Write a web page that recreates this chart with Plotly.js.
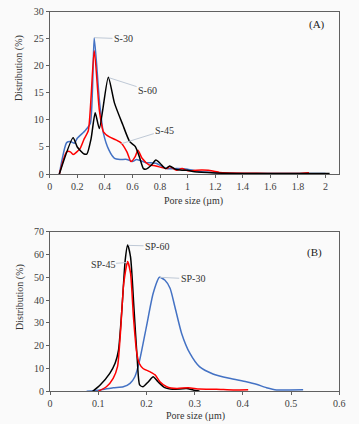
<!DOCTYPE html>
<html><head><meta charset="utf-8">
<script src="https://cdn.plot.ly/plotly-3.0.1.min.js"></script>
<style>html,body{margin:0;padding:0;background:#fafafa}#c{width:359px;height:424px}</style>
</head><body><div id="c"></div>
<script>
// Panel A
const s30x = [0.07,0.123,0.15,0.18,0.2,0.26,0.295,0.323,0.36,0.39,0.43,0.47,0.51,0.56,0.6,0.63,0.7,0.77,0.85,0.92,1.0,1.1,1.2,1.4,1.8,2.0];
const s30y = [0,5.8,6.0,5.7,6.6,8.1,9.4,25.2,13.7,7.5,4.4,2.9,2.7,2.7,2.3,2.7,2.1,2.0,1.0,1.0,0.9,0.4,0.25,0.1,0.1,0.1];
const s45x = [0.07,0.123,0.15,0.17,0.22,0.25,0.28,0.323,0.36,0.39,0.43,0.48,0.52,0.56,0.59,0.62,0.64,0.67,0.72,0.77,0.85,0.87,0.92,0.96,1.0,1.1,1.15,1.23,1.5,1.8,1.88];
const s45y = [0,4.1,4.1,3.6,4.7,6.5,8.0,22.8,11.8,7.8,6.9,6.3,5.7,4.1,2.3,3.2,4.4,2.9,1.7,1.5,1.0,1.4,0.7,1.0,0.6,0.75,0.7,0.3,0.15,0.1,0.25];
const s60x = [0.07,0.17,0.2,0.25,0.27,0.3,0.33,0.36,0.425,0.47,0.53,0.58,0.62,0.65,0.68,0.7,0.74,0.77,0.8,0.84,0.87,0.91,0.96,1.0,1.05,1.2,1.5,1.8,2.03];
const s60y = [0,6.7,5.0,3.7,3.7,6.5,11.3,8.4,17.9,13.1,9.1,6.0,5.1,3.2,1.0,0.9,1.7,2.6,2.0,1.0,1.5,0.9,0.7,0.7,0.4,0.2,0.1,0.1,0.1];
// Panel B
const sp30x = [0.076,0.104,0.131,0.152,0.166,0.176,0.186,0.2,0.214,0.227,0.238,0.249,0.259,0.273,0.29,0.31,0.338,0.372,0.407,0.428,0.449,0.47,0.497,0.525];
const sp30y = [0,0.6,1.6,2,3.5,6.4,13.7,28.4,43,50,48.8,45.2,37.1,25.4,16.7,10.8,7.6,5.7,4.2,3.1,1.6,0.6,0.6,0.7];
const sp45x = [0.1,0.117,0.131,0.14,0.146,0.153,0.161,0.167,0.173,0.18,0.185,0.193,0.207,0.218,0.228,0.242,0.263,0.287,0.31,0.345,0.38,0.411];
const sp45y = [0,2,5.7,10.8,25.4,47.4,56.9,51.8,32.7,16.7,12.3,10,8.6,7.2,4.2,2,1.2,1.6,1,0.9,0.6,0.7];
const sp60x = [0.0885,0.104,0.124,0.135,0.142,0.149,0.156,0.161,0.167,0.174,0.181,0.186,0.193,0.204,0.214,0.224,0.238,0.255,0.283,0.297,0.31];
const sp60y = [0,2.8,7.9,12.3,18,35.7,57.6,64.2,59,37,13.7,2.8,2,4.2,6.4,4.2,1.6,0.9,1.2,0.6,0.15];

const BLUE='#4472c4', RED='#ff0000', BLACK='#000000';
const F='Liberation Serif';
function tr(x,y,c,xa,ya){return {x:x,y:y,xaxis:xa,yaxis:ya,type:'scatter',mode:'lines',line:{color:c,width:1.5,shape:'spline',smoothing:0.6},hoverinfo:'skip',showlegend:false};}
const data=[
 tr(s30x,s30y,BLUE,'x','y'), tr(s45x,s45y,RED,'x','y'), tr(s60x,s60y,BLACK,'x','y'),
 tr(sp30x,sp30y,BLUE,'x2','y2'), tr(sp60x,sp60y,BLACK,'x2','y2'), tr(sp45x,sp45y,RED,'x2','y2')
];
const ax={showline:true,mirror:true,linecolor:'#606060',linewidth:1,showgrid:false,zeroline:false,ticks:'outside',ticklen:3,tickcolor:'#606060',tickfont:{family:F,size:10,color:'#404040'}};
const LC='#bfc9d6';
function lab(t,x,y,tx,ty,xr,yr){return {text:t,x:x,y:y,ax:tx,ay:ty,xref:xr,yref:yr,axref:xr,ayref:yr,showarrow:true,arrowhead:0,arrowwidth:1,arrowcolor:LC,standoff:0,font:{family:F,size:10,color:'#333'}};}
function ttl(t,x,y,rot){return {text:t,x:x,y:y,xref:'paper',yref:'paper',xanchor:'center',yanchor:'middle',showarrow:false,textangle:rot||0,font:{family:F,size:10,color:'#333'}};}
const layout={
 width:359,height:424,margin:{l:0,r:0,t:0,b:0},paper_bgcolor:'#fafafa',plot_bgcolor:'#fafafa',
 xaxis:Object.assign({},ax,{domain:[0.1384,0.9451],range:[0,2.1],tickvals:[0,0.2,0.4,0.6,0.8,1,1.2,1.4,1.6,1.8,2],anchor:'y'}),
 yaxis:Object.assign({},ax,{domain:[0.5896,0.9724],range:[0,30],dtick:5,anchor:'x'}),
 xaxis2:Object.assign({},ax,{domain:[0.1393,0.9451],range:[0,0.6],dtick:0.1,anchor:'y2'}),
 yaxis2:Object.assign({},ax,{domain:[0.0771,0.4535],range:[0,70],dtick:10,anchor:'x2'}),
 annotations:[
  lab('S-30',0.323,25.2,0.535,25,'x','y'),
  lab('S-60',0.43,17.8,0.71,15.5,'x','y'),
  lab('S-45',0.52,5.6,0.835,8.1,'x','y'),
  {text:'(A)',x:1.94,y:27.7,xref:'x',yref:'y',showarrow:false,font:{family:F,size:11,color:'#222'}},
  lab('SP-60',0.163,64,0.222,63.7,'x2','y2'),
  lab('SP-45',0.16,56.5,0.109,55.7,'x2','y2'),
  lab('SP-30',0.228,50,0.296,49.3,'x2','y2'),
  {text:'(B)',x:0.548,y:61.1,xref:'x2',yref:'y2',showarrow:false,font:{family:F,size:11,color:'#222'}},
  ttl('Distribution (%)',19/359,1-68/424,-90),
  ttl('Pore size (µm)',194/359,1-201/424),
  ttl('Distribution (%)',20/359,1-297/424,-90),
  ttl('Pore size (µm)',195/359,1-416/424)
 ]
};
Plotly.newPlot('c',data,layout,{staticPlot:true});
</script></body></html>
